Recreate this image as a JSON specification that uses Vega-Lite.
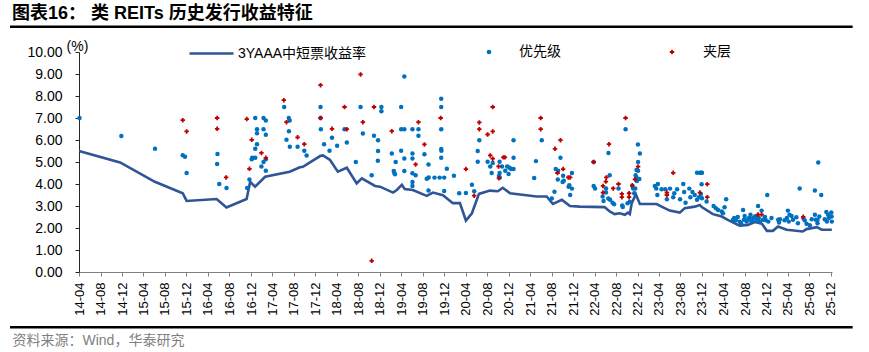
{
  "$schema": "https://vega.github.io/schema/vega-lite/v6.json",
  "width": 753,
  "height": 220,
  "autosize": {"type": "none"},
  "padding": {"left": 79, "top": 52, "right": 37, "bottom": 80},
  "background": "white",
  "config": {"font": "Liberation Sans, Noto Sans CJK SC", "view": {"stroke": null}, "axis": {"labelOverlap": false}},
  "title": {"text": "图表16： 类 REITs 历史发行收益特征", "anchor": "start", "frame": "group", "dx": -67, "offset": 2, "fontSize": 18, "fontWeight": "bold", "color": "#000000"},
  "datasets": {
    "line": [
      {"date":"2014-04-01","value":5.50},{"date":"2014-11-20","value":4.98},{"date":"2015-06-05","value":4.10},{"date":"2015-11-10","value":3.58},{"date":"2015-12-02","value":3.23},{"date":"2016-05-20","value":3.32},{"date":"2016-07-15","value":2.93},{"date":"2016-11-06","value":3.32},{"date":"2016-11-26","value":4.10},{"date":"2016-12-24","value":3.88},{"date":"2017-02-19","value":4.33},{"date":"2017-07-08","value":4.56},{"date":"2017-09-04","value":4.76},{"date":"2017-09-21","value":4.78},{"date":"2017-12-30","value":5.28},{"date":"2018-01-13","value":5.30},{"date":"2018-02-22","value":5.09},{"date":"2018-04-07","value":4.56},{"date":"2018-05-28","value":4.74},{"date":"2018-07-23","value":4.03},{"date":"2018-08-21","value":4.26},{"date":"2018-11-04","value":3.91},{"date":"2018-12-02","value":3.88},{"date":"2019-02-14","value":3.61},{"date":"2019-03-07","value":3.73},{"date":"2019-04-05","value":3.96},{"date":"2019-04-21","value":3.77},{"date":"2019-06-06","value":3.73},{"date":"2019-08-24","value":3.46},{"date":"2019-09-28","value":3.61},{"date":"2019-11-24","value":3.49},{"date":"2020-01-19","value":3.13},{"date":"2020-02-28","value":3.13},{"date":"2020-04-02","value":2.34},{"date":"2020-05-06","value":2.67},{"date":"2020-06-15","value":3.55},{"date":"2020-08-16","value":3.70},{"date":"2020-09-30","value":3.67},{"date":"2020-10-28","value":3.83},{"date":"2020-12-08","value":3.58},{"date":"2021-05-08","value":3.43},{"date":"2021-07-04","value":3.43},{"date":"2021-08-08","value":3.09},{"date":"2021-09-28","value":3.28},{"date":"2021-11-13","value":3.00},{"date":"2022-01-08","value":2.97},{"date":"2022-05-28","value":2.95},{"date":"2022-06-26","value":2.75},{"date":"2022-07-24","value":2.63},{"date":"2022-08-22","value":2.67},{"date":"2022-09-20","value":2.60},{"date":"2022-10-07","value":2.70},{"date":"2022-10-18","value":2.63},{"date":"2022-10-29","value":3.13},{"date":"2022-11-21","value":3.53},{"date":"2022-12-14","value":3.09},{"date":"2023-03-19","value":3.09},{"date":"2023-04-22","value":2.95},{"date":"2023-06-01","value":2.79},{"date":"2023-07-28","value":2.70},{"date":"2023-08-25","value":2.90},{"date":"2023-10-21","value":2.97},{"date":"2023-11-19","value":3.05},{"date":"2023-11-30","value":2.95},{"date":"2024-02-01","value":2.63},{"date":"2024-03-22","value":2.52},{"date":"2024-04-25","value":2.37},{"date":"2024-07-02","value":2.11},{"date":"2024-08-17","value":2.14},{"date":"2024-09-26","value":2.27},{"date":"2024-11-05","value":2.19},{"date":"2024-12-03","value":1.87},{"date":"2025-01-06","value":1.87},{"date":"2025-02-04","value":2.07},{"date":"2025-03-25","value":1.92},{"date":"2025-06-24","value":1.84},{"date":"2025-07-16","value":1.95},{"date":"2025-09-12","value":2.04},{"date":"2025-10-10","value":1.92},{"date":"2025-12-06","value":1.92}
    ],
    "senior": [
      {"date":"2014-04-04","value":7.00},{"date":"2014-11-27","value":6.18},{"date":"2015-06-06","value":5.60},{"date":"2015-11-10","value":5.31},{"date":"2015-11-23","value":5.24},{"date":"2015-12-02","value":4.50},{"date":"2016-05-25","value":5.36},{"date":"2016-05-23","value":4.91},{"date":"2016-06-04","value":4.00},{"date":"2016-07-15","value":3.82},{"date":"2016-12-25","value":7.00},{"date":"2017-01-04","value":6.49},{"date":"2017-01-04","value":6.31},{"date":"2017-01-04","value":5.81},{"date":"2016-12-25","value":5.60},{"date":"2016-12-08","value":5.19},{"date":"2016-12-05","value":5.12},{"date":"2016-12-25","value":5.19},{"date":"2016-11-22","value":4.21},{"date":"2016-11-09","value":3.82},{"date":"2017-02-23","value":5.13},{"date":"2017-02-10","value":5.00},{"date":"2017-01-29","value":4.80},{"date":"2017-02-23","value":4.60},{"date":"2017-02-10","value":7.00},{"date":"2017-02-23","value":6.89},{"date":"2017-02-10","value":6.49},{"date":"2017-02-23","value":6.24},{"date":"2017-06-07","value":7.50},{"date":"2017-07-03","value":7.00},{"date":"2017-07-08","value":6.89},{"date":"2017-07-04","value":6.40},{"date":"2017-06-20","value":6.01},{"date":"2017-07-09","value":5.69},{"date":"2017-08-22","value":5.69},{"date":"2017-09-29","value":5.51},{"date":"2017-10-12","value":5.30},{"date":"2017-12-30","value":7.50},{"date":"2017-12-30","value":7.00},{"date":"2018-01-01","value":6.49},{"date":"2018-01-19","value":5.81},{"date":"2018-02-19","value":5.51},{"date":"2018-03-05","value":6.10},{"date":"2018-04-03","value":5.74},{"date":"2018-05-15","value":6.49},{"date":"2018-05-28","value":5.89},{"date":"2018-07-18","value":5.00},{"date":"2018-08-14","value":7.50},{"date":"2018-08-27","value":6.30},{"date":"2018-10-16","value":4.40},{"date":"2018-10-29","value":6.19},{"date":"2018-11-21","value":5.99},{"date":"2018-11-21","value":5.50},{"date":"2018-11-20","value":5.06},{"date":"2018-12-10","value":7.50},{"date":"2018-12-10","value":7.31},{"date":"2019-02-07","value":5.39},{"date":"2019-02-18","value":4.59},{"date":"2019-02-21","value":4.51},{"date":"2019-03-01","value":5.00},{"date":"2019-02-25","value":4.44},{"date":"2019-04-01","value":7.50},{"date":"2019-04-19","value":8.89},{"date":"2019-04-01","value":6.49},{"date":"2019-04-19","value":6.49},{"date":"2019-04-01","value":5.51},{"date":"2019-04-19","value":5.16},{"date":"2019-04-19","value":4.59},{"date":"2019-06-04","value":6.49},{"date":"2019-06-04","value":5.39},{"date":"2019-06-04","value":5.16},{"date":"2019-06-04","value":4.49},{"date":"2019-06-04","value":4.09},{"date":"2019-06-04","value":3.91},{"date":"2019-06-22","value":4.40},{"date":"2019-07-08","value":6.49},{"date":"2019-07-08","value":6.19},{"date":"2019-08-11","value":5.35},{"date":"2019-09-03","value":4.89},{"date":"2019-08-24","value":4.24},{"date":"2019-09-03","value":3.70},{"date":"2019-09-04","value":4.30},{"date":"2019-10-07","value":4.29},{"date":"2019-11-05","value":4.29},{"date":"2019-11-14","value":7.88},{"date":"2019-11-14","value":7.50},{"date":"2019-11-14","value":6.49},{"date":"2019-11-14","value":5.59},{"date":"2019-11-15","value":5.51},{"date":"2019-11-14","value":5.19},{"date":"2019-12-01","value":4.29},{"date":"2019-12-01","value":3.68},{"date":"2019-12-16","value":4.69},{"date":"2020-01-25","value":4.38},{"date":"2020-02-24","value":3.58},{"date":"2020-04-02","value":3.59},{"date":"2020-05-06","value":3.97},{"date":"2020-05-19","value":3.67},{"date":"2020-06-17","value":5.99},{"date":"2020-06-08","value":5.50},{"date":"2020-06-08","value":5.01},{"date":"2020-08-03","value":5.01},{"date":"2020-09-01","value":4.95},{"date":"2020-08-18","value":4.80},{"date":"2020-08-26","value":4.50},{"date":"2020-10-10","value":5.01},{"date":"2020-10-10","value":4.50},{"date":"2020-10-06","value":4.36},{"date":"2020-10-11","value":4.30},{"date":"2020-10-24","value":4.80},{"date":"2020-11-11","value":4.60},{"date":"2020-11-22","value":4.80},{"date":"2020-11-30","value":4.45},{"date":"2020-12-05","value":4.74},{"date":"2020-12-14","value":4.68},{"date":"2020-12-28","value":5.99},{"date":"2020-12-28","value":5.19},{"date":"2020-12-28","value":4.68},{"date":"2021-04-24","value":4.27},{"date":"2021-05-04","value":5.04},{"date":"2021-06-06","value":5.99},{"date":"2021-08-02","value":3.34},{"date":"2021-08-17","value":3.65},{"date":"2021-09-20","value":5.19},{"date":"2021-08-24","value":4.68},{"date":"2021-09-07","value":4.60},{"date":"2021-09-05","value":4.20},{"date":"2021-10-05","value":4.38},{"date":"2021-10-09","value":4.15},{"date":"2021-10-02","value":4.09},{"date":"2021-11-24","value":4.50},{"date":"2021-11-05","value":3.88},{"date":"2021-11-09","value":3.94},{"date":"2021-11-24","value":3.79},{"date":"2021-11-14","value":3.50},{"date":"2022-03-27","value":5.00},{"date":"2022-03-27","value":3.91},{"date":"2022-04-04","value":3.80},{"date":"2022-05-17","value":3.43},{"date":"2022-05-22","value":3.23},{"date":"2022-06-19","value":5.41},{"date":"2022-06-26","value":4.40},{"date":"2022-06-05","value":3.80},{"date":"2022-06-05","value":3.61},{"date":"2022-06-18","value":3.34},{"date":"2022-06-28","value":3.28},{"date":"2022-07-12","value":3.15},{"date":"2022-07-21","value":3.08},{"date":"2022-08-15","value":3.80},{"date":"2022-09-05","value":3.02},{"date":"2022-09-08","value":2.95},{"date":"2022-09-24","value":6.49},{"date":"2022-10-05","value":3.13},{"date":"2022-10-18","value":3.19},{"date":"2022-11-01","value":3.91},{"date":"2022-11-06","value":3.79},{"date":"2022-11-20","value":4.40},{"date":"2022-11-25","value":4.30},{"date":"2022-12-04","value":5.00},{"date":"2022-12-03","value":5.80},{"date":"2022-12-14","value":5.39},{"date":"2022-11-27","value":4.14},{"date":"2022-11-18","value":3.80},{"date":"2022-12-11","value":4.23},{"date":"2022-12-04","value":4.60},{"date":"2022-11-12","value":3.58},{"date":"2022-11-25","value":4.64},
      {"date":"2023-03-09","value":3.91},{"date":"2023-03-17","value":3.80},{"date":"2023-03-26","value":4.00},{"date":"2023-03-23","value":3.50},{"date":"2023-04-16","value":3.76},{"date":"2023-05-07","value":3.76},{"date":"2023-05-16","value":3.31},{"date":"2023-06-03","value":3.79},{"date":"2023-06-21","value":3.40},{"date":"2023-06-27","value":3.58},{"date":"2023-07-13","value":3.76},{"date":"2023-07-30","value":3.31},{"date":"2023-08-17","value":4.00},{"date":"2023-08-22","value":3.64},{"date":"2023-08-30","value":3.15},{"date":"2023-09-20","value":3.79},{"date":"2023-09-26","value":3.40},{"date":"2023-10-08","value":3.64},{"date":"2023-10-21","value":3.50},{"date":"2023-11-03","value":4.51},{"date":"2023-11-19","value":4.51},{"date":"2023-11-28","value":4.51},{"date":"2023-11-14","value":3.40},{"date":"2023-11-29","value":3.99},{"date":"2023-11-03","value":3.28},{"date":"2023-12-01","value":4.51},{"date":"2023-11-25","value":3.55},{"date":"2023-12-27","value":3.20},{"date":"2023-12-01","value":3.35},{"date":"2024-02-05","value":3.00},{"date":"2024-02-18","value":2.90},{"date":"2024-03-01","value":2.82},{"date":"2024-03-22","value":2.75},{"date":"2024-03-29","value":2.67},{"date":"2024-04-07","value":2.94},{"date":"2024-04-16","value":3.31},{"date":"2024-06-01","value":2.45},{"date":"2024-05-25","value":2.37},{"date":"2024-07-02","value":2.29},{"date":"2024-07-10","value":2.22},{"date":"2024-07-21","value":2.82},{"date":"2024-07-26","value":2.37},{"date":"2024-08-10","value":2.29},{"date":"2024-08-24","value":2.45},{"date":"2024-09-01","value":2.60},{"date":"2024-09-06","value":2.29},{"date":"2024-09-16","value":2.45},{"date":"2024-09-26","value":2.52},{"date":"2024-10-05","value":2.37},{"date":"2024-10-14","value":3.00},{"date":"2024-11-03","value":2.79},{"date":"2024-10-24","value":2.29},{"date":"2024-11-11","value":2.37},{"date":"2024-12-05","value":3.50},{"date":"2024-12-11","value":2.29},{"date":"2024-12-29","value":2.45},{"date":"2025-02-05","value":2.37},{"date":"2025-02-10","value":2.25},{"date":"2025-04-01","value":2.79},{"date":"2025-03-26","value":2.45},{"date":"2025-04-10","value":2.60},{"date":"2025-04-06","value":2.29},{"date":"2025-04-30","value":2.37},{"date":"2025-05-19","value":2.49},{"date":"2025-06-07","value":3.80},{"date":"2025-05-28","value":2.22},{"date":"2025-06-27","value":2.45},{"date":"2025-07-16","value":2.19},{"date":"2025-08-03","value":2.13},{"date":"2025-09-01","value":3.70},{"date":"2025-09-20","value":4.98},{"date":"2025-10-07","value":3.50},{"date":"2025-09-01","value":2.60},{"date":"2025-09-06","value":2.37},{"date":"2025-09-16","value":2.37},{"date":"2025-09-26","value":2.52},{"date":"2025-11-05","value":2.73},{"date":"2025-12-03","value":2.70},{"date":"2025-12-05","value":2.52},{"date":"2025-12-06","value":2.29},{"date":"2025-11-08","value":2.29},{"date":"2025-09-16","value":2.22},
      {"date":"2024-06-10","value":2.35},{"date":"2024-06-21","value":2.50},{"date":"2024-07-30","value":2.55},{"date":"2024-08-17","value":2.40},{"date":"2024-09-09","value":2.35},{"date":"2024-10-07","value":2.55},{"date":"2024-10-18","value":2.45},{"date":"2024-11-22","value":2.50},{"date":"2024-11-27","value":2.35},{"date":"2025-02-15","value":2.40},{"date":"2025-03-13","value":2.35},{"date":"2025-04-22","value":2.55},{"date":"2025-07-05","value":2.35},{"date":"2025-08-14","value":2.40},{"date":"2025-10-27","value":2.40},{"date":"2025-11-19","value":2.45},{"date":"2025-11-15","value":2.60}
    ],
    "mezz": [
      {"date":"2015-11-10","value":6.90},{"date":"2015-12-02","value":6.39},{"date":"2016-05-23","value":7.00},{"date":"2016-05-23","value":6.51},{"date":"2016-07-13","value":4.30},{"date":"2016-11-07","value":6.95},{"date":"2016-12-05","value":6.01},{"date":"2016-11-22","value":4.69},{"date":"2017-01-29","value":5.41},{"date":"2017-02-23","value":5.19},{"date":"2017-06-05","value":7.81},{"date":"2017-06-20","value":6.81},{"date":"2017-08-22","value":6.12},{"date":"2017-09-29","value":5.81},{"date":"2017-12-30","value":8.49},{"date":"2017-12-30","value":7.00},{"date":"2018-03-05","value":6.51},{"date":"2018-05-15","value":7.50},{"date":"2018-05-28","value":6.49},{"date":"2018-08-14","value":8.98},{"date":"2018-08-27","value":6.81},{"date":"2018-10-16","value":0.51},{"date":"2018-10-29","value":7.50},{"date":"2019-02-07","value":6.40},{"date":"2019-06-22","value":4.89},{"date":"2019-07-08","value":6.81},{"date":"2019-08-11","value":5.80},{"date":"2019-11-11","value":7.00},{"date":"2020-04-02","value":4.68},{"date":"2020-05-19","value":3.47},{"date":"2020-06-17","value":6.80},{"date":"2020-06-17","value":6.49},{"date":"2020-08-03","value":6.25},{"date":"2020-09-01","value":7.50},{"date":"2020-09-01","value":6.39},{"date":"2020-08-18","value":5.30},{"date":"2020-09-01","value":5.15},{"date":"2020-10-04","value":4.80},{"date":"2020-10-06","value":4.26},{"date":"2020-10-31","value":5.21},{"date":"2020-11-09","value":5.21},{"date":"2021-05-31","value":7.00},{"date":"2021-05-31","value":6.49},{"date":"2021-08-20","value":5.60},{"date":"2021-09-20","value":5.99},{"date":"2021-09-03","value":4.50},{"date":"2021-10-05","value":4.68},{"date":"2021-11-03","value":4.30},{"date":"2021-11-14","value":4.30},{"date":"2022-03-27","value":5.00},{"date":"2022-05-19","value":3.91},{"date":"2022-05-19","value":3.61},{"date":"2022-06-07","value":4.30},{"date":"2022-06-04","value":4.11},{"date":"2022-06-22","value":5.81},{"date":"2022-07-16","value":3.80},{"date":"2022-08-15","value":4.00},{"date":"2022-09-03","value":3.55},{"date":"2022-09-03","value":3.40},{"date":"2022-09-24","value":7.00},{"date":"2022-10-14","value":3.58},{"date":"2022-10-14","value":3.40},{"date":"2022-11-01","value":3.94},{"date":"2022-11-16","value":4.21},{"date":"2022-12-04","value":4.79},{"date":"2023-05-16","value":3.61},{"date":"2023-05-16","value":3.50},{"date":"2023-06-21","value":4.51},{"date":"2023-11-19","value":3.61},{"date":"2023-12-31","value":3.99},{"date":"2023-12-31","value":3.40},{"date":"2024-10-14","value":2.61},{"date":"2024-11-03","value":2.61},{"date":"2025-06-27","value":2.51}
    ],
    "frame": [
      {"date": "2013-03-06", "date2": "2026-04-03", "value": 11.15},
      {"date": "2013-03-06", "date2": "2026-04-03", "value": -2.51}
    ]
  },
  "encoding": {
    "x": {
      "field": "date", "type": "temporal",
      "scale": {"type": "utc", "domain": [{"year": 2014, "month": 4, "date": 1, "utc": true}, {"year": 2025, "month": 12, "date": 7, "utc": true}]},
      "axis": {
        "values": [
          {"year":2014,"month":4,"date":1,"utc":true},{"year":2014,"month":8,"date":1,"utc":true},{"year":2014,"month":12,"date":1,"utc":true},
          {"year":2015,"month":4,"date":1,"utc":true},{"year":2015,"month":8,"date":1,"utc":true},{"year":2015,"month":12,"date":1,"utc":true},
          {"year":2016,"month":4,"date":1,"utc":true},{"year":2016,"month":8,"date":1,"utc":true},{"year":2016,"month":12,"date":1,"utc":true},
          {"year":2017,"month":4,"date":1,"utc":true},{"year":2017,"month":8,"date":1,"utc":true},{"year":2017,"month":12,"date":1,"utc":true},
          {"year":2018,"month":4,"date":1,"utc":true},{"year":2018,"month":8,"date":1,"utc":true},{"year":2018,"month":12,"date":1,"utc":true},
          {"year":2019,"month":4,"date":1,"utc":true},{"year":2019,"month":8,"date":1,"utc":true},{"year":2019,"month":12,"date":1,"utc":true},
          {"year":2020,"month":4,"date":1,"utc":true},{"year":2020,"month":8,"date":1,"utc":true},{"year":2020,"month":12,"date":1,"utc":true},
          {"year":2021,"month":4,"date":1,"utc":true},{"year":2021,"month":8,"date":1,"utc":true},{"year":2021,"month":12,"date":1,"utc":true},
          {"year":2022,"month":4,"date":1,"utc":true},{"year":2022,"month":8,"date":1,"utc":true},{"year":2022,"month":12,"date":1,"utc":true},
          {"year":2023,"month":4,"date":1,"utc":true},{"year":2023,"month":8,"date":1,"utc":true},{"year":2023,"month":12,"date":1,"utc":true},
          {"year":2024,"month":4,"date":1,"utc":true},{"year":2024,"month":8,"date":1,"utc":true},{"year":2024,"month":12,"date":1,"utc":true},
          {"year":2025,"month":4,"date":1,"utc":true},{"year":2025,"month":8,"date":1,"utc":true},{"year":2025,"month":12,"date":1,"utc":true}
        ],
        "format": "%y-%m",
        "labelAngle": -90,
        "labelFontSize": 13,
        "labelColor": "#000000",
        "labelPadding": 6,
        "labelOverlap": false,
        "labelFlush": false,
        "labelBound": false,
        "tickSize": 4,
        "tickColor": "#7f7f7f",
        "domainColor": "#7f7f7f",
        "grid": false,
        "title": "资料来源：Wind，华泰研究",
        "titleX": -67,
        "titleY": 68,
        "titleAlign": "left",
        "titleAnchor": "start",
        "titleBaseline": "middle",
        "titleFontWeight": "normal",
        "titleFontSize": 14,
        "titleColor": "#7f7f7f"
      }
    },
    "y": {
      "field": "value", "type": "quantitative",
      "scale": {"domain": [0, 10]},
      "axis": {
        "values": [0,1,2,3,4,5,6,7,8,9,10],
        "format": ".2f",
        "labelFontSize": 14,
        "labelColor": "#000000",
        "labelPadding": 13,
        "labelOverlap": false,
        "labelFlush": false,
        "labelBound": false,
        "tickSize": 4,
        "tickColor": "#262626",
        "domainColor": "#262626",
        "grid": false,
        "title": "(%)",
        "titleAngle": 0,
        "titleX": -2,
        "titleY": -6,
        "titleAlign": "center",
        "titleBaseline": "middle",
        "titleFontWeight": "normal",
        "titleFontSize": 14,
        "titleColor": "#000000"
      }
    }
  },
  "layer": [
    {
      "data": {"name": "frame"},
      "mark": {"type": "rule", "color": "#000000", "strokeWidth": 2.5},
      "encoding": {
        "x2": {"field": "date2"}
      }
    },
    {
      "data": {"name": "line"},
      "mark": {"type": "line", "strokeWidth": 2.6, "color": "#2F5597"},
      "encoding": {
        "color": {
          "datum": "3YAAA中短票收益率", "type": "nominal",
          "scale": {"range": ["#2F5597"]},
          "legend": {"title": null, "orient": "none", "legendX": 109, "legendY": -22, "padding": 0, "symbolType": "stroke", "symbolSize": 1936, "symbolStrokeWidth": 2.6, "labelFontSize": 14, "labelOffset": 3, "labelColor": "#000000"}
        }
      }
    },
    {
      "data": {"name": "senior"},
      "mark": {"type": "point", "filled": true, "shape": "circle", "size": 20, "opacity": 1},
      "encoding": {
        "color": {
          "datum": "优先级", "type": "nominal",
          "scale": {"range": ["#0070C0"]},
          "legend": {"title": null, "orient": "none", "legendX": 403, "legendY": -7, "padding": 0, "symbolType": "circle", "symbolSize": 22, "labelFontSize": 14, "labelOffset": 23, "labelColor": "#000000", "symbolOpacity": 1}
        }
      }
    },
    {
      "data": {"name": "mezz"},
      "mark": {"type": "point", "filled": true, "shape": "cross", "size": 20, "opacity": 1},
      "encoding": {
        "color": {
          "datum": "夹层", "type": "nominal",
          "scale": {"range": ["#C00000"]},
          "legend": {"title": null, "orient": "none", "legendX": 586, "legendY": -7, "padding": 0, "symbolType": "cross", "symbolSize": 20, "labelFontSize": 14, "labelOffset": 24, "labelColor": "#000000", "symbolOpacity": 1}
        }
      }
    }
  ],
  "resolve": {"scale": {"color": "independent"}}
}
